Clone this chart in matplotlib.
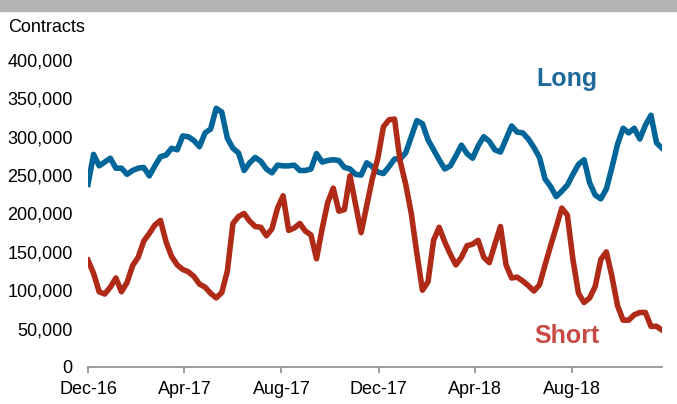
import numpy as np
import pandas as pd
import matplotlib
matplotlib.use('Agg')
import matplotlib.pyplot as plt
import matplotlib.dates as mdates
from matplotlib.ticker import FuncFormatter, MultipleLocator

plt.rcParams['font.family'] = ['Liberation Sans', 'DejaVu Sans']

# weekly positioning, thousands of contracts
long_k = [238, 277, 262, 267, 272, 259, 259, 251, 256, 259,
          260, 249, 262, 274, 276, 285, 283, 301, 300, 295,
          287, 305, 310, 337, 332, 298, 285, 279, 256, 266,
          273, 268, 258, 253, 263, 262, 262, 263, 256, 256,
          258, 278, 267, 269, 270, 269, 260, 258, 251, 250,
          266, 261, 254, 252, 261, 271, 271, 279, 300, 321,
          317, 296, 283, 270, 258, 262, 275, 289, 278, 272,
          288, 300, 294, 283, 280, 297, 314, 306, 305, 297,
          286, 273, 245, 235, 222, 229, 237, 251, 264, 270,
          240, 224, 219, 232, 260, 290, 311, 305, 311, 297,
          315, 328, 292, 285]
short_k = [139, 122, 98, 95, 104, 116, 98, 110, 132, 143,
           164, 174, 185, 191, 163, 144, 133, 127, 124, 118,
           108, 104, 96, 90, 97, 125, 187, 196, 200, 190,
           183, 182, 171, 180, 207, 223, 178, 181, 187, 177,
           172, 141, 180, 214, 233, 203, 205, 249, 212, 175,
           210, 245, 272, 313, 322, 323, 268, 238, 200, 148,
           100, 111, 165, 182, 163, 147, 133, 143, 158, 160,
           165, 143, 136, 160, 183, 133, 116, 117, 112, 106,
           99, 107, 133, 158, 182, 207, 198, 140, 96, 84,
           90, 105, 140, 150, 118, 80, 61, 61, 68, 71,
           71, 53, 53, 48]

dates = pd.date_range('2016-12-01', periods=len(long_k), freq='7D')
long_pos = np.array(long_k) * 1000
short_pos = np.array(short_k) * 1000

blue = '#006699'
red = '#b02a18'
axis_grey = '#8c8c8c'

fig = plt.figure(figsize=(6.77, 4.04), dpi=100)
# grey strip across the top
fig.patches.append(plt.Rectangle((0, 1 - 11 / 404), 1, 11 / 404,
                                 transform=fig.transFigure, color='#b3b3b3', zorder=0))

ax = fig.add_axes([0.130, 0.0916, 0.848, 0.760])
ax.plot(dates, long_pos, color=blue, lw=4.0, solid_joinstyle='round')
ax.plot(dates, short_pos, color=red, lw=4.0, solid_joinstyle='round')

ax.set_xlim(dates[0], dates[-1])
ax.set_ylim(0, 400000)
ax.yaxis.set_major_locator(MultipleLocator(50000))
ax.yaxis.set_major_formatter(FuncFormatter(lambda v, p: f'{v:,.0f}'))

ax.xaxis.set_major_locator(mdates.MonthLocator(bymonth=[4, 8, 12]))
ax.xaxis.set_major_formatter(mdates.DateFormatter('%b-%y'))

for s in ['top', 'right', 'left']:
    ax.spines[s].set_visible(False)
ax.spines['bottom'].set_color(axis_grey)
ax.spines['bottom'].set_linewidth(1.2)
ax.tick_params(axis='y', length=0, pad=11, labelsize=13, colors='black')
ax.tick_params(axis='x', direction='out', length=4, width=1.2, color=axis_grey,
               pad=6, labelsize=13)

fig.text(8 / 677, 1 - 28 / 404, 'Contracts', fontsize=13, va='center', ha='left')
ax.text(pd.Timestamp('2018-07-26'), 375000, 'Long', color='#1f6a9a',
        fontsize=18, fontweight='bold', ha='center', va='center')
ax.text(pd.Timestamp('2018-07-25'), 40000, 'Short', color='#c64a42',
        fontsize=18, fontweight='bold', ha='center', va='center')

fig.savefig('out.png', dpi=100)
